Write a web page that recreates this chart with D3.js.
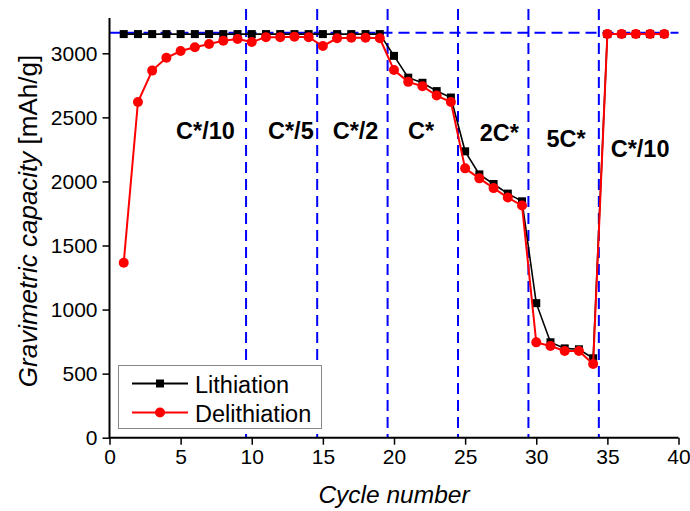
<!DOCTYPE html>
<html>
<head>
<meta charset="utf-8">
<script src="https://cdn.jsdelivr.net/npm/d3@7"></script>
<style>
  body { margin: 0; background: #fff; }
  text { font-family: Arial, "Liberation Sans", sans-serif; }
</style>
</head>
<body>
<svg id="chart" width="690" height="511"></svg>
<script>
// cycle numbers and capacities
var cycles = [1, 2, 3, 4, 5, 6, 7, 8, 9, 10, 11, 12, 13, 14, 15, 16, 17, 18, 19, 20,
              21, 22, 23, 24, 25, 26, 27, 28, 29, 30, 31, 32, 33, 34, 35, 36, 37, 38, 39];
var lithiation = [3150, 3150, 3150, 3150, 3150, 3150, 3150, 3150, 3150, 3150,
                  3150, 3150, 3150, 3150, 3150, 3150, 3150, 3150, 3150, 2980,
                  2810, 2770, 2705, 2655, 2235, 2055, 1980, 1905, 1845, 1050,
                  745, 697, 690, 620, 3150, 3150, 3150, 3150, 3150];
var delithiation = [1365, 2620, 2865, 2965, 3018, 3047, 3073, 3098, 3112, 3088,
                    3126, 3126, 3130, 3126, 3057, 3117, 3122, 3122, 3117, 2869,
                    2777, 2743, 2670, 2620, 2102, 2024, 1948, 1874, 1812, 744,
                    716, 677, 677, 575, 3150, 3150, 3150, 3150, 3150];

// rate change markers and theoretical line
var rateBreaks = [9.6, 14.6, 19.55, 24.5, 29.45, 34.4];
var refCapacity = 3160;

// rate labels (cycle position, capacity position)
var rateLabels = ["C*/10", "C*/5", "C*/2", "C*", "2C*", "5C*", "C*/10"];
var labelX = [6.75, 12.75, 17.3, 21.9, 27.4, 32.1, 37.3];
var labelY = [2330, 2330, 2330, 2330, 2315, 2270, 2190];

var xTicks = [0, 5, 10, 15, 20, 25, 30, 35, 40];
var yTicks = [0, 500, 1000, 1500, 2000, 2500, 3000];

var svg = d3.select("#chart");

var x = d3.scaleLinear().domain([0, 40]).range([109.5, 678.5]);
var y = d3.scaleLinear().domain([0, 3000]).range([437.7, 53.3]);

var rows = cycles.map(function(c, i) {
  return {c: c, li: lithiation[i], de: delithiation[i]};
});

// dashed guide lines
svg.append("g").selectAll("line")
  .data(rateBreaks)
  .join("line")
    .attr("x1", d => x(d)).attr("x2", d => x(d))
    .attr("y1", y(3345)).attr("y2", y(0))
    .attr("stroke", "#0000ff")
    .attr("stroke-width", 2)
    .attr("stroke-dasharray", "11,6");

svg.append("line")
  .attr("x1", x(0)).attr("x2", x(40))
  .attr("y1", y(refCapacity)).attr("y2", y(refCapacity))
  .attr("stroke", "#0000ff")
  .attr("stroke-width", 2)
  .attr("stroke-dasharray", "11,6");

// axes
var xAxis = d3.axisBottom(x).tickValues(xTicks).tickSize(7).tickPadding(4).tickFormat(d3.format("d"));
var xMinor = d3.axisBottom(x).tickValues(d3.range(0, 41, 1)).tickSize(4).tickFormat("");
var yAxis = d3.axisLeft(y).tickValues(yTicks).tickSize(7).tickPadding(5).tickFormat(d3.format("d"));
var yMinor = d3.axisLeft(y).tickValues(d3.range(0, 3201, 100)).tickSize(4).tickFormat("");

var gx = svg.append("g").attr("transform", "translate(0," + y(0) + ")");
gx.call(xMinor);
gx.call(xAxis);
var gy = svg.append("g").attr("transform", "translate(" + x(0) + ",0)");
gy.call(yMinor);
gy.call(yAxis);

svg.selectAll(".domain").remove();
svg.selectAll(".tick line").attr("stroke", "#000").attr("stroke-width", 1.5);
svg.selectAll(".tick text").attr("font-size", 21).attr("fill", "#000")
  .style("font-family", "Arial, 'Liberation Sans', sans-serif");

// axis lines
svg.append("line")
  .attr("x1", x(0)).attr("x2", x(40)).attr("y1", y(0)).attr("y2", y(0))
  .attr("stroke", "#000").attr("stroke-width", 2);
svg.append("line")
  .attr("x1", x(0)).attr("x2", x(0)).attr("y1", y(0) + 1).attr("y2", y(3275))
  .attr("stroke", "#000").attr("stroke-width", 2);

// series
var lineLi = d3.line().x(d => x(d.c)).y(d => y(d.li));
var lineDe = d3.line().x(d => x(d.c)).y(d => y(d.de));

svg.append("path").datum(rows)
  .attr("d", lineLi).attr("fill", "none").attr("stroke", "#000").attr("stroke-width", 1.6);
svg.append("g").selectAll("rect")
  .data(rows)
  .join("rect")
    .attr("x", d => x(d.c) - 4).attr("y", d => y(d.li) - 4)
    .attr("width", 8).attr("height", 8)
    .attr("fill", "#000");

svg.append("path").datum(rows)
  .attr("d", lineDe).attr("fill", "none").attr("stroke", "#ff0000").attr("stroke-width", 2);
svg.append("g").selectAll("circle")
  .data(rows)
  .join("circle")
    .attr("cx", d => x(d.c)).attr("cy", d => y(d.de))
    .attr("r", 5)
    .attr("fill", "#ff0000");

// rate labels
svg.append("g").selectAll("text")
  .data(rateLabels)
  .join("text")
    .attr("x", (d, i) => x(labelX[i]))
    .attr("y", (d, i) => y(labelY[i]))
    .attr("text-anchor", "middle")
    .attr("font-size", 23.5)
    .attr("font-weight", "bold")
    .text(d => d);

// axis titles
svg.append("text")
  .attr("x", 394).attr("y", 503)
  .attr("text-anchor", "middle")
  .attr("font-size", 24.5)
  .attr("font-style", "italic")
  .text("Cycle number");

var yt = svg.append("text")
  .attr("transform", "translate(37,221) rotate(-90)")
  .attr("text-anchor", "middle")
  .attr("font-size", 26);
yt.append("tspan").attr("font-style", "italic").text("Gravimetric capacity ");
yt.append("tspan").text("[mAh/g]");

// legend
var leg = svg.append("g");
leg.append("rect")
  .attr("x", 118.5).attr("y", 365.5).attr("width", 203).attr("height", 63)
  .attr("fill", "#fff").attr("stroke", "#888").attr("stroke-width", 1);
var legItems = [
  {name: "Lithiation", color: "#000", shape: "square"},
  {name: "Delithiation", color: "#ff0000", shape: "circle"}
];
legItems.forEach(function(it, i) {
  var cy = 383.5 + i * 29;
  leg.append("line").attr("x1", 132).attr("x2", 188).attr("y1", cy).attr("y2", cy)
    .attr("stroke", it.color).attr("stroke-width", 2);
  if (it.shape === "square") {
    leg.append("rect").attr("x", 156).attr("y", cy - 4).attr("width", 8).attr("height", 8).attr("fill", it.color);
  } else {
    leg.append("circle").attr("cx", 160).attr("cy", cy).attr("r", 5).attr("fill", it.color);
  }
  leg.append("text").attr("x", 195).attr("y", cy + 9)
    .attr("font-size", 23.5).text(it.name);
});
</script>
</body>
</html>
